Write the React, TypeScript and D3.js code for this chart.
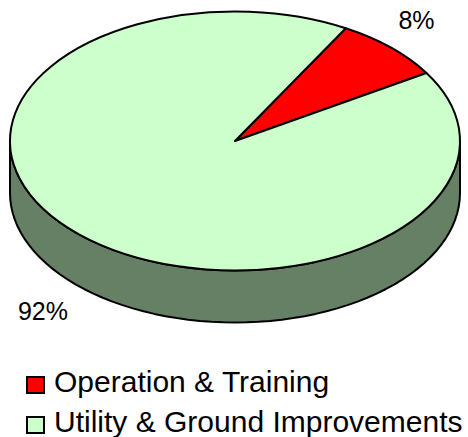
import React from 'react'
import * as d3 from 'd3'

const categories = ['Operation & Training', 'Utility & Ground Improvements']
const values = [8, 92]
const pctLabels = ['8%', '92%']
const topColors = ['#ff0000', '#ccffcc']
const sideColor = '#668066'

const width = 468
const height = 437
const cx = 235
const cy = 141
const rx = 225
const ry = 129.5
const depth = 52
const strokeW = 2

// first slice starts a bit past 12 o'clock
const startDeg = 29.5

const App = () => {
  const start = (startDeg * Math.PI) / 180
  const slices = d3.pie<number>()
    .sort(null)
    .startAngle(start)
    .endAngle(start + 2 * Math.PI)(values)

  // arcs are drawn on a circle then squashed into the ellipse
  const arc = d3.arc<d3.PieArcDatum<number>>().innerRadius(0).outerRadius(rx)
  const squash = ry / rx

  // front wall of the pie, left to right along the lower half
  const rim = d3.range(0, 181, 3).map(d => (d * Math.PI) / 180)
  const line = d3.line<number[]>()
  const wallPts = [
    ...rim.map(a => [cx + rx * Math.cos(a), cy + ry * Math.sin(a)]),
    ...rim.slice().reverse().map(a => [cx + rx * Math.cos(a), cy + depth + ry * Math.sin(a)]),
  ]

  const legendY = d3.scalePoint<string>().domain(categories).range([385, 425])

  return (
    <svg width={width} height={height} style={{ position: 'absolute', left: 0, top: 0 }}
      fontFamily="'Liberation Sans', Arial, sans-serif">
      <path d={line(wallPts) + 'Z'} fill={sideColor} stroke="#000" strokeWidth={strokeW} strokeLinejoin="round" />
      <g transform={`translate(${cx},${cy}) scale(1,${squash})`}>
        {slices.map((s, i) => (
          <path key={i} d={arc(s) as string} fill={topColors[i]} stroke="#000" strokeWidth={strokeW}
            strokeLinejoin="round" vectorEffect="non-scaling-stroke" />
        ))}
      </g>
      <text x={416.5} y={29} fontSize={25} textAnchor="middle" fill="#000">{pctLabels[0]}</text>
      <text x={43} y={320} fontSize={25} textAnchor="middle" fill="#000">{pctLabels[1]}</text>
      {categories.map((c, i) => (
        <g key={c}>
          <rect x={27} y={legendY(c)! - 8} width={17} height={16} fill={topColors[i]} stroke="#000" strokeWidth={2} />
          <text x={54} y={legendY(c)! + 6.5} fontSize={30} fill="#000">{c}</text>
        </g>
      ))}
    </svg>
  )
}

export default App
